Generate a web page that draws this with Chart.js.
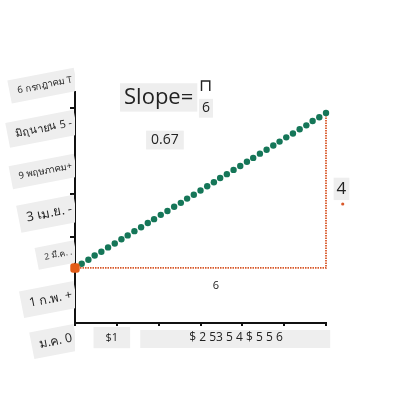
<!DOCTYPE html>
<html>
<head>
<meta charset="utf-8">
<script src="https://cdn.jsdelivr.net/npm/chart.js@4"></script>
<style>
  body { margin: 0; background: #fff; }
  #wrap { width: 400px; height: 400px; }
</style>
</head>
<body>
<div id="wrap"><canvas id="chartCanvas" width="400" height="400"></canvas></div>
<script>
// points on the slope line (run 6, rise 4)
const lineX = [0, 0.16, 0.32, 0.47, 0.63, 0.79, 0.95, 1.11, 1.26, 1.42, 1.58, 1.74, 1.89,
  2.05, 2.21, 2.37, 2.53, 2.68, 2.84, 3.00, 3.16, 3.32, 3.47, 3.63, 3.79, 3.95, 4.11,
  4.26, 4.42, 4.58, 4.74, 4.89, 5.05, 5.21, 5.37, 5.53, 5.68, 5.84, 6.00];
const lineY = [0, 0.11, 0.21, 0.32, 0.42, 0.53, 0.63, 0.74, 0.84, 0.95, 1.05, 1.16, 1.26,
  1.37, 1.47, 1.58, 1.68, 1.79, 1.89, 2.00, 2.11, 2.21, 2.32, 2.42, 2.53, 2.63, 2.74,
  2.84, 2.95, 3.05, 3.16, 3.26, 3.37, 3.47, 3.58, 3.68, 3.79, 3.89, 4.00];

// run / rise guide
const guideX = [0, 6, 6];
const guideY = [0, 0, 4];

// start point
const startX = [0];
const startY = [0];

// stray dot under the rise label
const strayX = [6.4];
const strayY = [1.65];

// axis ticks and labels
const xTickValues = [0, 1, 2, 3, 4, 5, 6];
const xTickLabels = ["", "$1", "", "", "", "", ""];
const xExtraLabel = "$ 2 53 5 4 $ 5 5 6";
const yTickValues = [0, 1, 2, 3, 4, 5, 6];
const yTickLabels = ["ม.ค. 0", "1 ก.พ. +", "2 มี.ค. .", "3 เม.ย. -", "9 พฤษภาคม+", "มิถุนายน 5 -", "6 กรกฎาคม T"];

const slopeText = "Slope=";
const slopeValue = "0.67";
const runLabel = "6";
const riseLabel = "4";

// styling
const FONT = "'Open Sans', 'Noto Sans', sans-serif";
const BOX = "#eeeeee";
const RED = "#d9582a";
const yLabelSizes = [12.5, 12.5, 8.5, 13, 9.5, 11, 9.5];
const yTickShown = [false, false, true, true, false, true, false];

Chart.defaults.font.family = FONT;
Chart.defaults.color = "#222";

function toPts(xs, ys) {
    return xs.map((v, i) => ({ x: v, y: ys[i] }));
}

function boxText(ctx, text, cx, cy, size, padX, padY, withBox) {
    ctx.font = size + "px " + FONT;
    const w = ctx.measureText(text).width;
    if (withBox) {
        ctx.fillStyle = BOX;
        ctx.fillRect(cx - w / 2 - padX, cy - size * 0.6 - padY, w + padX * 2, size * 1.2 + padY * 2);
    }
    ctx.fillStyle = "#222";
    ctx.textAlign = "center";
    ctx.textBaseline = "middle";
    ctx.fillText(text, cx, cy);
}

// labels drawn over the plot
const notes = {
    id: "notes",
    afterDraw(chart) {
        const { ctx, scales } = chart;
        const x = scales.x, yv = scales.yv;
        ctx.save();
        boxText(ctx, slopeText, x.getPixelForValue(2), yv.getPixelForValue(4.4), 22, 4, 1, true);
        boxText(ctx, "6", x.getPixelForValue(3.13), yv.getPixelForValue(4.12), 14, 3, 1, true);
        boxText(ctx, "\u2293", x.getPixelForValue(3.13), yv.getPixelForValue(4.68), 17, 0, 0, false);
        boxText(ctx, slopeValue, x.getPixelForValue(2.15), yv.getPixelForValue(3.3), 14, 5, 1, true);
        boxText(ctx, riseLabel, x.getPixelForValue(6.37), yv.getPixelForValue(2.04), 17, 3, 1, true);
        boxText(ctx, runLabel, x.getPixelForValue(3.37), yv.getPixelForValue(-0.47), 11, 0, 0, false);

        // stray dot (outside the x range, so the dataset would skip it)
        ctx.fillStyle = RED;
        strayX.forEach((v, i) => {
            ctx.beginPath();
            ctx.arc(x.getPixelForValue(v), yv.getPixelForValue(strayY[i]), 1.6, 0, Math.PI * 2);
            ctx.fill();
        });

        // the rest of the x labels, run together in one box
        const left = x.getPixelForValue(1.56), right = x.getPixelForValue(6.1);
        ctx.fillStyle = BOX;
        ctx.fillRect(left, x.top + 7, right - left, 18);
        boxText(ctx, xExtraLabel, x.getPixelForValue(3.85), x.top + 15, 12, 0, 0, false);
        ctx.restore();
    }
};

const ctx = document.getElementById("chartCanvas").getContext("2d");

new Chart(ctx, {
    type: "scatter",
    data: {
        datasets: [
            {
                label: "start",
                data: toPts(startX, startY),
                yAxisID: "yv",
                backgroundColor: "#e35d18",
                borderWidth: 0,
                pointStyle: "rectRounded",
                pointRadius: 5.5,
                clip: false
            },
            {
                label: "line",
                data: toPts(lineX, lineY),
                yAxisID: "yv",
                backgroundColor: "#157658",
                borderWidth: 0,
                pointRadius: 3.2,
                clip: false
            },
            {
                label: "guide",
                data: toPts(guideX, guideY),
                yAxisID: "yv",
                showLine: true,
                borderColor: RED,
                borderWidth: 1.8,
                borderDash: [1.5, 1],
                pointRadius: 0,
                fill: false,
                clip: false
            }
        ]
    },
    options: {
        responsive: false,
        animation: false,
        layout: { padding: { left: 0, right: 74, top: 92, bottom: 0 } },
        plugins: {
            legend: { display: false },
            tooltip: { enabled: false }
        },
        scales: {
            x: {
                type: "linear",
                min: 0,
                max: 6,
                afterBuildTicks: s => { s.ticks = xTickValues.map(v => ({ value: v })); },
                afterFit: s => { s.height = 77; },
                border: { display: true, color: "#111", width: 2 },
                grid: { drawOnChartArea: false, tickLength: 3, color: "#111", lineWidth: 2 },
                ticks: {
                    padding: 5,
                    labelOffset: -5,
                    font: { size: 11 },
                    callback: (v, i) => xTickLabels[i],
                    showLabelBackdrop: c => xTickLabels[c.index] !== "",
                    backdropColor: BOX,
                    backdropPadding: { left: 12, right: 12, top: 4, bottom: 4 }
                }
            },
            y: {
                type: "linear",
                position: "left",
                min: 0,
                max: 5.37,
                afterBuildTicks: s => { s.ticks = yTickValues.map(v => ({ value: v })); },
                afterFit: s => { s.width = 75; },
                border: { display: true, color: "#111", width: 2 },
                grid: {
                    drawOnChartArea: false,
                    tickLength: 5,
                    lineWidth: 2,
                    color: c => yTickShown[c.index] ? "#111" : "rgba(0,0,0,0)"
                },
                ticks: {
                    padding: -2,
                    labelOffset: 15,
                    minRotation: 11,
                    maxRotation: 50,
                    font: c => ({ size: yLabelSizes[c.index], family: FONT }),
                    callback: (v, i) => yTickLabels[i],
                    showLabelBackdrop: true,
                    backdropColor: BOX,
                    backdropPadding: { left: 8, right: 4, top: 6, bottom: 6 }
                }
            },
            yv: {
                type: "linear",
                display: false,
                min: -1.42,
                max: 4.54
            }
        }
    },
    plugins: [notes]
});
</script>
</body>
</html>
